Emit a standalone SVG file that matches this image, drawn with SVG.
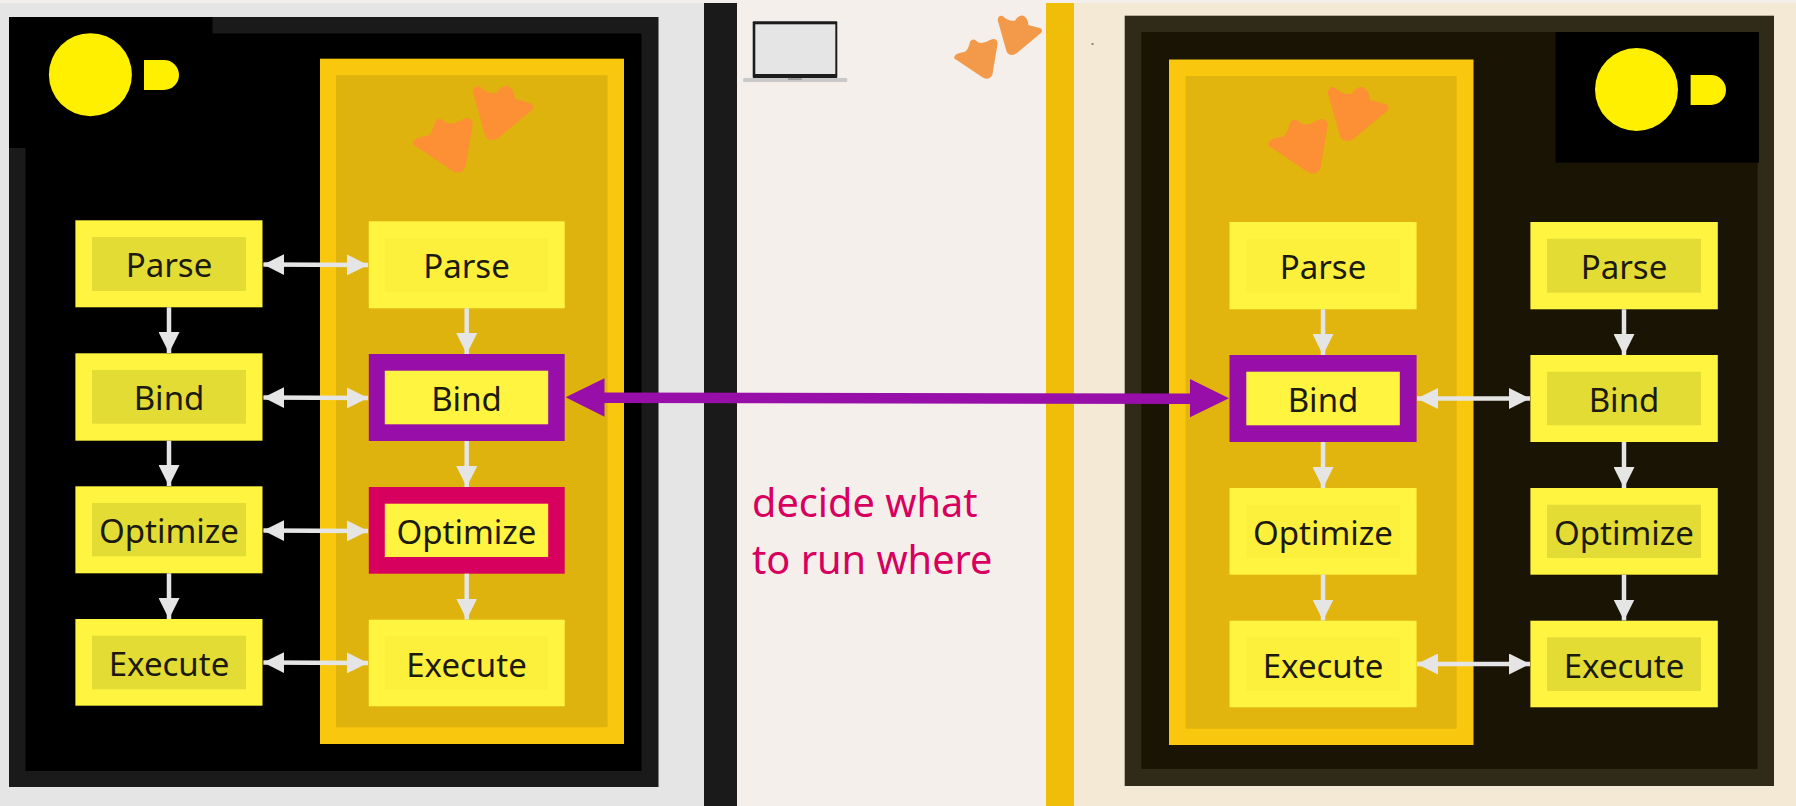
<svg xmlns="http://www.w3.org/2000/svg" width="1796" height="806" viewBox="0 0 1796 806">
<style>
.o{fill:#fff440}.il{fill:#e3dc35}.ip{fill:#fdf03c}
.pu{fill:#970fa8}.pk{fill:#d8005f}
text{font-family:"Noto Sans","Open Sans",sans-serif}
.t{font-size:33px;fill:#1c1a0c;text-anchor:middle}
.n{font-size:39.700px;fill:#d8005f}
.w{stroke:#e5e5e5;stroke-width:4.5;fill:none}
.foot{fill:#fd8f35}
</style>
<defs>
<g id="feet" transform="translate(700 0) scale(.33333)">
<path d="M763 170Q765 160 795 155Q805 150 810 125Q820 112 832 125Q845 135 870 120Q890 110 893 130L877 225Q865 245 845 230L770 180Q760 175 763 170Z"/>
<path d="M893 60Q895 45 908 48Q925 65 945 62Q955 45 970 47Q985 55 985 75L1022 85Q1030 92 1022 100L950 160Q930 172 920 155Z"/>
</g>
<marker id="a" viewBox="0 0 21 21" refX="21" refY="10.5" markerUnits="userSpaceOnUse" markerWidth="21" markerHeight="21" orient="auto-start-reverse"><path d="M0 0L21 10.5L0 21Z" fill="#e5e5e5"/></marker>
</defs>

<rect width="1796" height="806" fill="#f4efeb"/>
<rect x="0" y="3" width="704" height="803" fill="#e5e5e5"/>
<rect x="1074" y="3" width="722" height="803" fill="#f4e9d4"/>
<rect x="704" y="3" width="33" height="803" fill="#1a1a1a"/>
<rect x="1046" y="3" width="28" height="803" fill="#f0bd09"/>
<rect x="1091.500" y="43" width="2" height="2" fill="#8a8478"/>

<g id="panel-left">
<rect x="9" y="17" width="649.500" height="770" fill="#1a1a1a"/>
<rect x="25.500" y="33.500" width="616" height="737.500" fill="#000"/>
<rect x="9" y="17" width="203.500" height="131" fill="#000"/>
<circle cx="90.400" cy="74.700" r="41.500" fill="#fff000"/>
<path d="M144 60H164A15 15 0 0 1 164 90H144Z" fill="#fff000"/>
<rect x="320" y="58.700" width="304" height="685.300" fill="#fac70f"/>
<rect x="336" y="75.300" width="271.600" height="652" fill="#dfb30e"/>
<g class="foot" transform="translate(-894 64.600) scale(1.37)"><use href="#feet"/></g>
</g>

<g id="panel-right">
<rect x="1124.700" y="15.700" width="649.300" height="770.300" fill="#302a19"/>
<rect x="1141.300" y="32" width="616.300" height="737" fill="#191403"/>
<rect x="1555.500" y="32" width="203.500" height="130.700" fill="#000"/>
<circle cx="1636.500" cy="89.500" r="41.500" fill="#fff000"/>
<path d="M1690.600 75H1711A15 15 0 0 1 1711 105H1690.600Z" fill="#fff000"/>
<rect x="1169" y="59.500" width="304.500" height="685.500" fill="#fac70f"/>
<rect x="1185.600" y="76" width="271.100" height="652.700" fill="#e1b40e"/>
<g class="foot" transform="translate(-39 65.600) scale(1.37)"><use href="#feet"/></g>
</g>

<g id="laptop">
<rect x="743" y="78" width="104.300" height="4" rx="1.500" fill="#c9c9c9"/>
<rect x="752.700" y="21.300" width="84.600" height="56.700" rx="1" fill="#1c1c1c"/>
<rect x="755.300" y="24.300" width="80" height="49.700" fill="#e5e5e5"/>
<rect x="788" y="78" width="14" height="2" fill="#9c9c9c"/>
</g>
<g id="mid-feet" fill="#f29a4a"><use href="#feet"/></g>

<g id="l-parse"><rect class="o" x="75.400" y="220.300" width="187.100" height="87"/><rect class="il" x="92" y="237" width="154" height="54"/><text class="t" x="169" y="276.500">Parse</text></g>
<g id="l-bind"><rect class="o" x="75.400" y="353.300" width="187.100" height="87.400"/><rect class="il" x="92" y="370" width="154" height="53.700"/><text class="t" x="169" y="409.500">Bind</text></g>
<g id="l-optimize"><rect class="o" x="75.400" y="486.300" width="187.100" height="87"/><rect class="il" x="92" y="503" width="154" height="53.300"/><text class="t" x="169" y="542.500">Optimize</text></g>
<g id="l-execute"><rect class="o" x="75.400" y="619" width="187.100" height="86.700"/><rect class="il" x="92" y="635.700" width="154" height="53.600"/><text class="t" x="169" y="675.500">Execute</text></g>

<g id="m-parse"><rect class="o" x="368.800" y="221.300" width="195.900" height="87"/><rect class="ip" x="384.800" y="238" width="163.400" height="54"/><text class="t" x="466.500" y="277.500">Parse</text></g>
<g id="m-bind"><rect class="pu" x="368.800" y="354" width="195.900" height="87"/><rect class="o" x="384.800" y="370.700" width="163.400" height="53.600"/><text class="t" x="466.500" y="410.500">Bind</text></g>
<g id="m-optimize"><rect class="pk" x="368.800" y="487" width="195.900" height="86.700"/><rect class="o" x="384.800" y="503.700" width="163.400" height="53.300"/><text class="t" x="466.500" y="543.500">Optimize</text></g>
<g id="m-execute"><rect class="o" x="368.800" y="619.700" width="195.900" height="86.600"/><rect class="ip" x="384.800" y="636.300" width="163.400" height="53.400"/><text class="t" x="466.500" y="676.500">Execute</text></g>

<g id="r-parse"><rect class="o" x="1229.500" y="222" width="187.100" height="87.300"/><rect class="ip" x="1246.300" y="238.700" width="153.500" height="54"/><text class="t" x="1323" y="278.500">Parse</text></g>
<g id="r-bind"><rect class="pu" x="1229.500" y="355" width="187.100" height="87"/><rect class="o" x="1246.300" y="371.700" width="153.500" height="53.600"/><text class="t" x="1323" y="411.500">Bind</text></g>
<g id="r-optimize"><rect class="o" x="1229.500" y="488" width="187.100" height="86.700"/><rect class="ip" x="1246.300" y="504.700" width="153.500" height="53.300"/><text class="t" x="1323" y="544.500">Optimize</text></g>
<g id="r-execute"><rect class="o" x="1229.500" y="620.700" width="187.100" height="86.600"/><rect class="ip" x="1246.300" y="637.300" width="153.500" height="53.700"/><text class="t" x="1323" y="677.500">Execute</text></g>

<g id="s-parse"><rect class="o" x="1530.400" y="222" width="187.400" height="87.300"/><rect class="il" x="1547" y="238.700" width="154" height="54"/><text class="t" x="1624" y="278.500">Parse</text></g>
<g id="s-bind"><rect class="o" x="1530.400" y="355" width="187.400" height="87"/><rect class="il" x="1547" y="371.700" width="154" height="53.600"/><text class="t" x="1624" y="411.500">Bind</text></g>
<g id="s-optimize"><rect class="o" x="1530.400" y="488" width="187.400" height="86.700"/><rect class="il" x="1547" y="504.700" width="154" height="53.300"/><text class="t" x="1624" y="544.500">Optimize</text></g>
<g id="s-execute"><rect class="o" x="1530.400" y="620.700" width="187.400" height="86.600"/><rect class="il" x="1547" y="637.300" width="154" height="53.700"/><text class="t" x="1624" y="677.500">Execute</text></g>

<g id="connectors">
<g class="w">
<path d="M169 307.300V353" marker-end="url(#a)"/>
<path d="M169 440.700V486" marker-end="url(#a)"/>
<path d="M169 573.300V619" marker-end="url(#a)"/>
<path d="M466.700 308.300V354" marker-end="url(#a)"/>
<path d="M466.700 441V487" marker-end="url(#a)"/>
<path d="M466.700 573.700V619.500" marker-end="url(#a)"/>
<path d="M1323 309.300V355" marker-end="url(#a)"/>
<path d="M1323 442V488" marker-end="url(#a)"/>
<path d="M1323 574.700V620.500" marker-end="url(#a)"/>
<path d="M1624 309.300V355" marker-end="url(#a)"/>
<path d="M1624 442V488" marker-end="url(#a)"/>
<path d="M1624 574.700V620.500" marker-end="url(#a)"/>
<path d="M263.400 264.500L368 265" marker-start="url(#a)" marker-end="url(#a)"/>
<path d="M263.400 397.500L368 398" marker-start="url(#a)" marker-end="url(#a)"/>
<path d="M263.400 530.500L368 531" marker-start="url(#a)" marker-end="url(#a)"/>
<path d="M263.400 662.500L368 663" marker-start="url(#a)" marker-end="url(#a)"/>
<path d="M1417 398.500H1530" marker-start="url(#a)" marker-end="url(#a)"/>
<path d="M1417 664H1530" marker-start="url(#a)" marker-end="url(#a)"/>
</g>
<path id="purple-arrow" class="pu" d="M565.600 397.300L604.500 378.300V392.500L1190 393.500V379L1229 398.300L1190 417.300V404L604.500 403V416.700Z"/>
</g>

<g id="note"><text class="n" x="752" y="516.700">decide what</text><text class="n" x="752" y="574.300">to run where</text></g>
</svg>
